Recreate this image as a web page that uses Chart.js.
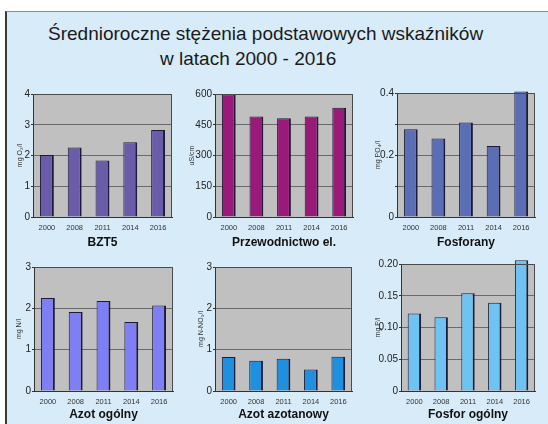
<!DOCTYPE html>
<html lang="pl">
<head>
  <meta charset="UTF-8">
  <title>Średnioroczne stężenia</title>
  <style>
    body { margin: 0; background: #fff; width: 548px; height: 424px; overflow: hidden; position: relative; font-family: "Liberation Sans", Arial, sans-serif; }
    #ramka { position: absolute; left: 5px; top: 11px; width: 543px; height: 413px; background: #d8ebf8; border-top: 1px solid #8a8f94; border-left: 2px solid #3a3a3a; box-sizing: border-box; }
    .tytul { position: absolute; font-size: 19px; line-height: 25px; color: #1a1a1a; white-space: nowrap; }
    canvas { position: absolute; }
  </style>
</head>
<body>
  <div id="ramka"></div>
  <div class="tytul" style="left:48px; top:21px;">Średnioroczne stężenia podstawowych wskaźników</div>
  <div class="tytul" style="left:160px; top:46px;">w latach 2000 - 2016</div>

  <canvas id="c1"></canvas>
  <canvas id="c2"></canvas>
  <canvas id="c3"></canvas>
  <canvas id="c4"></canvas>
  <canvas id="c5"></canvas>
  <canvas id="c6"></canvas>

  <script src="https://cdn.jsdelivr.net/npm/chart.js"></script>
  <script>
    // dane
    const lata = ['2000', '2008', '2011', '2014', '2016'];

    const bzt5 = [2.02, 2.26, 1.84, 2.43, 2.83];
    const przewodnictwo = [598, 490, 482, 490, 533];
    const fosforany = [0.283, 0.253, 0.305, 0.229, 0.405];
    const azotOgolny = [2.25, 1.91, 2.18, 1.67, 2.07];
    const azotAzotanowy = [0.82, 0.73, 0.78, 0.52, 0.83];
    const fosforOgolny = [0.122, 0.116, 0.154, 0.139, 0.206];

    const ticksBzt5 = ['0', '1', '2', '3', '4'];
    const ticksPrzew = ['0', '150', '300', '450', '600'];
    const ticksFosforany = ['0', '', '0.2', '', '0.4'];
    const ticksAzot = ['0', '1', '2', '3'];
    const ticksFosfor = ['0', '0.05', '0.10', '0.15', '0.20'];

    // tlo i ramka obszaru wykresu
    const tloWykresu = {
      id: 'tloWykresu',
      beforeDraw(chart) {
        const a = chart.chartArea, ctx = chart.ctx;
        ctx.save();
        ctx.fillStyle = '#c0c0c0';
        ctx.fillRect(a.left, a.top, a.right - a.left, a.bottom - a.top);
        ctx.restore();
      },
      afterDatasetsDraw(chart) {
        const a = chart.chartArea, ctx = chart.ctx;
        ctx.save();
        ctx.strokeStyle = '#4a4a4a';
        ctx.lineWidth = 1;
        ctx.beginPath();
        ctx.moveTo(a.left, a.top + 0.5);
        ctx.lineTo(a.right - 0.5, a.top + 0.5);
        ctx.lineTo(a.right - 0.5, a.bottom);
        ctx.stroke();
        ctx.restore();
      }
    };

    function wykres(id, box, plot, nazwa, jednostka, dane, kolor, max, krok, etykiety) {
      const cv = document.getElementById(id);
      cv.style.left = box.l + 'px';
      cv.style.top = box.t + 'px';
      cv.style.width = (box.r - box.l) + 'px';
      cv.style.height = (box.b - box.t) + 'px';
      cv.width = box.r - box.l;
      cv.height = box.b - box.t;

      const yW = plot.l - box.l;
      const xH = box.b - plot.b;

      new Chart(cv, {
        type: 'bar',
        data: {
          labels: lata,
          datasets: [{
            data: dane,
            backgroundColor: kolor,
            borderColor: '#1c1c38',
            borderWidth: { top: 1, right: 2, left: 1, bottom: 0 },
            borderSkipped: 'bottom',
            barPercentage: 0.5,
            categoryPercentage: 1,
            clip: false
          }]
        },
        options: {
          responsive: false,
          animation: false,
          layout: { padding: { top: plot.t - box.t, right: box.r - plot.r, left: 0, bottom: 0 } },
          plugins: { legend: { display: false }, tooltip: { enabled: false } },
          scales: {
            x: {
              grid: { display: false, drawTicks: false },
              border: { color: '#333', width: 1 },
              ticks: { color: '#333', font: { size: 7.5, family: 'Liberation Sans' }, padding: 6, maxRotation: 0 },
              title: { display: true, text: nazwa, color: '#111', padding: 0, font: { size: 12, weight: 'bold', family: 'Liberation Sans' } },
              afterFit(s) { s.height = xH; }
            },
            y: {
              min: 0, max: max,
              grid: { color: '#6a6a6a', tickLength: 2, tickColor: '#333' },
              border: { color: '#333', width: 1 },
              ticks: {
                stepSize: krok, padding: 1, color: '#222',
                font: { size: 10, family: 'Liberation Sans' },
                callback: (v, i) => etykiety[i]
              },
              title: { display: true, text: jednostka, color: '#333', padding: { top: box.yt - 4.2, bottom: 0 }, font: { size: 7, family: 'Liberation Sans' } },
              afterFit(s) { s.width = yW; }
            }
          }
        },
        plugins: [tloWykresu]
      });
    }

    wykres('c1', { l: 5, t: 86, r: 182, b: 250, yt: 15 }, { l: 33, t: 94, r: 172, b: 217 }, 'BZT5', 'mg O₂/l', bzt5, '#6a5ca8', 4, 1, ticksBzt5);
    wykres('c2', { l: 182, t: 86, r: 363, b: 250, yt: 10 }, { l: 215, t: 94, r: 353, b: 217 }, 'Przewodnictwo el.', 'uS/cm', przewodnictwo, '#9a1a7a', 600, 150, ticksPrzew);
    wykres('c3', { l: 363, t: 85, r: 545, b: 250, yt: 15 }, { l: 397, t: 93, r: 535, b: 217 }, 'Fosforany', 'mg PO₄/l', fosforany, '#5b6db5', 0.4, 0.1, ticksFosforany);
    wykres('c4', { l: 5, t: 258, r: 182, b: 422, yt: 14 }, { l: 34, t: 267, r: 173, b: 391 }, 'Azot ogólny', 'mg N/l', azotOgolny, '#7f7ff5', 3, 1, ticksAzot);
    wykres('c5', { l: 182, t: 258, r: 363, b: 422, yt: 19 }, { l: 215, t: 267, r: 352, b: 391 }, 'Azot azotanowy', 'mg N-NO₃/l', azotAzotanowy, '#1f8fe0', 3, 1, ticksAzot);
    wykres('c6', { l: 363, t: 255, r: 545, b: 422, yt: 15 }, { l: 401, t: 264, r: 535, b: 391 }, 'Fosfor ogólny', 'mg P/l', fosforOgolny, '#6fc3f3', 0.2, 0.05, ticksFosfor);
  </script>
</body>
</html>
